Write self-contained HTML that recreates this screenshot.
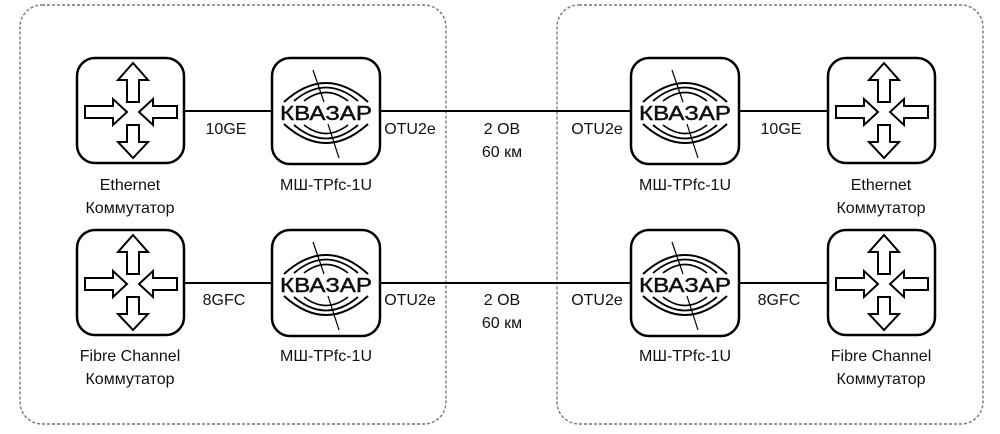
<!DOCTYPE html>
<html><head><meta charset="utf-8"><style>
html,body{margin:0;padding:0;background:#fff}
svg{display:block}
text{font-family:"Liberation Sans",sans-serif;font-size:16px;fill:#111}
.k{font-size:20px;font-weight:normal;stroke:#000;stroke-width:0.4}
</style></head><body>
<svg width="1000" height="434" viewBox="0 0 1000 434">
<defs>
<g id="sw">
<rect x="0" y="0" width="107" height="105" rx="18" fill="#fff" stroke="#000" stroke-width="2.5"/>
<g fill="#fff" stroke="#000" stroke-width="2">
<path d="M50,44 V22 H41 L56,5 L71,22 H62 V44 Z"/>
<path d="M50,67 V84 H41 L56,100 L71,84 H62 V67 Z"/>
<path d="M8,48 H36 V41 L50,54 L36,67 V60 H8 Z"/>
<path d="M100,48 H76 V41 L62,54 L76,67 V60 H100 Z"/>
</g>
</g>
<g id="lg">
<rect x="0" y="0" width="108" height="106" rx="18" fill="#fff" stroke="#000" stroke-width="2.5"/>
<g fill="none" stroke="#000">
<path d="M12,44 Q54,6 96,44" stroke-width="2"/>
<path d="M22,43 Q54,16 86,43" stroke-width="1.8"/>
<path d="M32,43 Q54,26 76,43" stroke-width="1.6"/>
<path d="M12,66 Q54,104 96,66" stroke-width="2"/>
<path d="M22,67 Q54,94 86,67" stroke-width="1.8"/>
<path d="M32,67 Q54,84 76,67" stroke-width="1.6"/>
<path d="M41,12 L52,44 M56,66 L67,100" stroke-width="1.2"/>
</g>
<rect x="8" y="45" width="92" height="20" fill="#fff"/>
</g>
</defs>
<rect x="20" y="5" width="426" height="419" rx="22" fill="none" stroke="#777" stroke-width="1.4" stroke-dasharray="3,2"/>
<rect x="557" y="5" width="426" height="419" rx="22" fill="none" stroke="#777" stroke-width="1.4" stroke-dasharray="3,2"/>
<g stroke="#000" stroke-width="2">
<line x1="184" y1="111" x2="272" y2="111"/><line x1="380" y1="111" x2="631" y2="111"/><line x1="739" y1="111" x2="828" y2="111"/>
<line x1="184" y1="283" x2="272" y2="283"/><line x1="380" y1="283" x2="631" y2="283"/><line x1="739" y1="283" x2="828" y2="283"/>
</g>
<use href="#sw" x="77" y="58"/><use href="#lg" x="272" y="58"/><use href="#lg" x="631" y="58"/><use href="#sw" x="828" y="58"/>
<use href="#sw" x="77" y="230"/><use href="#lg" x="272" y="230"/><use href="#lg" x="631" y="230"/><use href="#sw" x="828" y="230"/>
<g text-anchor="middle">
<text class="k" x="326" y="120" textLength="92" lengthAdjust="spacingAndGlyphs">КВАЗАР</text>
<text class="k" x="685" y="120" textLength="92" lengthAdjust="spacingAndGlyphs">КВАЗАР</text>
<text class="k" x="326" y="292" textLength="92" lengthAdjust="spacingAndGlyphs">КВАЗАР</text>
<text class="k" x="685" y="292" textLength="92" lengthAdjust="spacingAndGlyphs">КВАЗАР</text>
</g>
<g text-anchor="middle">
<text x="130" y="190">Ethernet</text><text x="130" y="213">Коммутатор</text>
<text x="326" y="190">МШ-TPfc-1U</text><text x="685" y="190">МШ-TPfc-1U</text>
<text x="881" y="190">Ethernet</text><text x="881" y="213">Коммутатор</text>
<text x="130" y="361">Fibre Channel</text><text x="130" y="384">Коммутатор</text>
<text x="326" y="361">МШ-TPfc-1U</text><text x="685" y="361">МШ-TPfc-1U</text>
<text x="881" y="361">Fibre Channel</text><text x="881" y="384">Коммутатор</text>
<text x="226" y="134">10GE</text><text x="781" y="134">10GE</text>
<text x="410" y="134">OTU2e</text><text x="597" y="134">OTU2e</text>
<text x="502" y="134">2 ОВ</text><text x="502" y="157">60 км</text>
<text x="224" y="305">8GFC</text><text x="779" y="305">8GFC</text>
<text x="410" y="305">OTU2e</text><text x="597" y="305">OTU2e</text>
<text x="502" y="305">2 ОВ</text><text x="502" y="328">60 км</text>
</g>
</svg>
</body></html>
